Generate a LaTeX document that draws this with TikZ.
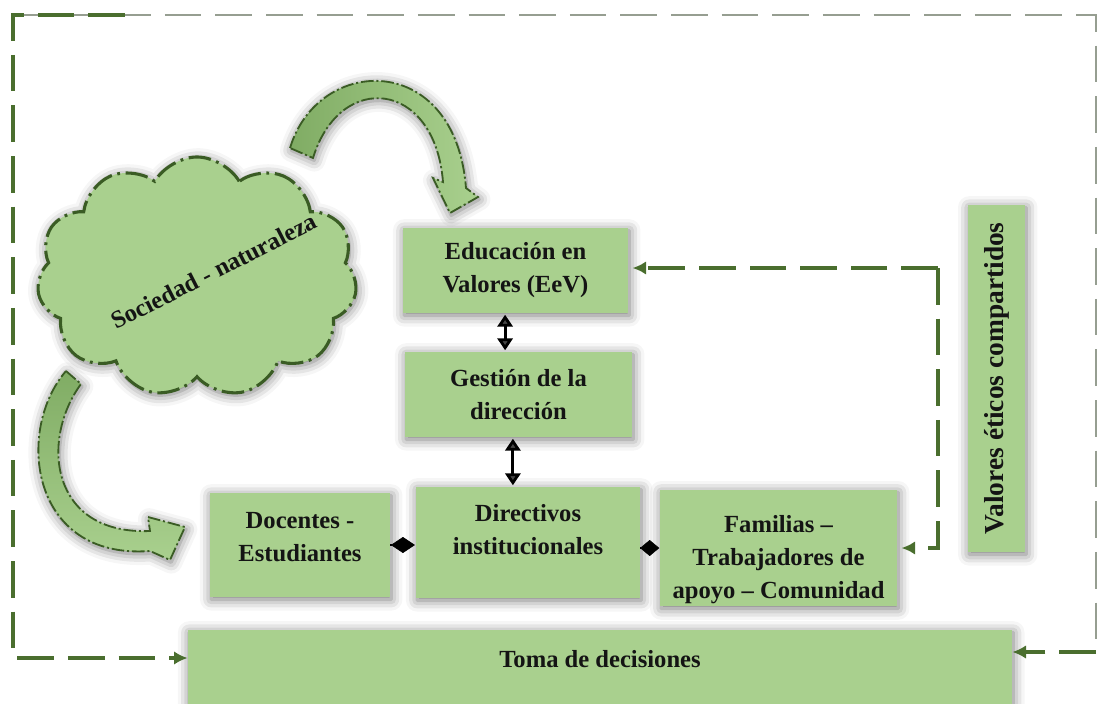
\documentclass[tikz,border=0pt]{standalone}
\usepackage{fontspec}
\setmainfont{Liberation Serif}
\usetikzlibrary{
  arrows.meta,
  positioning,
  calc,
  shapes.symbols,
  shadows.blur
}
\definecolor{boxcolor}{RGB}{169, 208, 142}
\definecolor{boxdark}{RGB}{128, 172, 100}
\definecolor{cloudline}{RGB}{58, 92, 36}
\definecolor{flowcolor}{RGB}{74, 110, 46}
\definecolor{framecolor}{RGB}{150, 158, 145}
\definecolor{labelcolor}{RGB}{20, 20, 20}
\tikzset{
blocktext/.style={
  align=center,
  font=\bfseries\fontsize{17.5}{23.4}\selectfont,
  text=labelcolor
},
softshadow/.style={
  blur shadow={shadow xshift=0.3mm, shadow yshift=-0.6mm,
    shadow blur radius=2.8mm, shadow opacity=55}
},
greenblock/.style={
  fill=boxcolor,
  inner sep=2pt,
  softshadow,
  blocktext
},
cloudblock/.style={
  cloud,
  cloud puffs=11,
  cloud puff arc=120,
  aspect=1.33,
  minimum width=8cm,
  minimum height=6cm,
  fill=boxcolor,
  draw=cloudline,
  line width=2.2pt,
  dash pattern=on 16pt off 4pt on 2pt off 4pt,
  softshadow
},
fatarrow/.style={
  draw=cloudline,
  line width=1.3pt,
  dash pattern=on 9pt off 2pt on 1.5pt off 2pt,
  softshadow
},
flowdash/.style={
  draw=flowcolor,
  line width=2.6pt,
  dash pattern=on 26pt off 10pt
},
flowarrow/.style={
  flowdash,
  -{Latex[length=3.4mm,width=3.4mm]}
},
framedash/.style={
  draw=framecolor,
  line width=2pt,
  dash pattern=on 26pt off 10pt
},
linkarrow/.style={
  {Triangle[length=3mm,width=3.8mm]}-{Triangle[length=3mm,width=3.8mm]},
  line width=2pt,
  shorten <=1pt,
  shorten >=1pt
},
diamondlink/.style={
  -{Kite[length=#1, width=4mm, inset=#1/2, fill=black, line width=0.4pt]},
  line width=1pt
}
}

\begin{document}
\begin{tikzpicture}[x=0.025cm, y=-0.025cm]
  \useasboundingbox (0,0) rectangle (1099,704);

  % frame corners
  \coordinate (tlc) at (125,15);
  \coordinate (tl) at (13,15);
  \coordinate (tr) at (1096,15);
  \coordinate (br) at (1096,652);
  \coordinate (bl) at (13,658);
  \coordinate (vc) at (938,268);

  % boxes
  \node[greenblock, minimum width=5.625cm, minimum height=2.125cm] (edu) at (515.5,270.5) {Educación en\\Valores (EeV)};
  \node[greenblock, minimum width=5.675cm, minimum height=2.125cm] (ges) at (518.5,394.5) {Gestión de la\\dirección};
  \node[greenblock, minimum width=5.6cm, minimum height=2.775cm, text depth=18pt] (dir) at (528,542.5) {Directivos\\institucionales};
  \node[greenblock, minimum width=4.5cm, minimum height=2.6cm, text depth=12pt] (doc) at (300,545) {Docentes -\\Estudiantes};
  \node[greenblock, minimum width=5.925cm, minimum height=2.525cm, text height=75pt] (fam) at (778.5,548) {Familias –\\Trabajadores de\\apoyo – Comunidad};
  \node[greenblock, rotate=90, minimum width=8.675cm, minimum height=1.425cm, font=\bfseries\fontsize{19.5}{23.4}\selectfont] (val) at (996.5,378.5) {Valores éticos compartidos};
  \node[greenblock, minimum width=20.6cm, minimum height=1.85cm, text depth=11pt] (toma) at (600,667) {Toma de decisiones};

  % cloud
  \node[cloudblock] (cloud) at (197,277) {};
  \node[blocktext, rotate=27] (cloudtext) at (214,271) {Sociedad - naturaleza};

  % curved arrows out of the cloud
  \path[fatarrow, left color=boxdark, right color=boxcolor]
    (290,148) .. controls (318,55) and (455,50) .. (466,188)
    -- (478,197) -- (450,213) -- (433,178) -- (443,182)
    .. controls (435,80) and (340,70) .. (313,158) -- cycle;
  \path[fatarrow, top color=boxdark, bottom color=boxcolor]
    (66,371) -- (81,384)
    .. controls (40,440) and (50,535) .. (150,531)
    -- (148,517) -- (185,527) -- (170,560) -- (150,551)
    .. controls (30,560) and (15,430) .. (66,371) -- cycle;

  % frame
  \draw[framedash] (tl) -- (tr) -- (br);
  \draw[flowarrow] (tlc) -- (tl) -- (bl) -- (bl -| toma.west);
  \draw[flowarrow] (br) -- (br -| toma.east);
  \draw[flowarrow, shorten >=3pt] (vc) -- (vc -| edu.east);
  \draw[flowarrow, shorten >=3pt] (vc) |- (fam.east);

  % links
  \draw[linkarrow] ([xshift=-0.26cm]edu.south) -- ([xshift=-0.26cm]edu.south |- ges.north);
  \draw[linkarrow] ([xshift=-0.14cm]ges.south) -- ([xshift=-0.14cm]ges.south |- dir.north);
  \draw[diamondlink=6mm, shorten >=0.2mm] (doc.east) -- (doc.east -| dir.west);
  \draw[diamondlink=4.8mm, shorten >=0.1mm] (fam.west -| dir.east) -- (fam.west);
\end{tikzpicture}
\end{document}
